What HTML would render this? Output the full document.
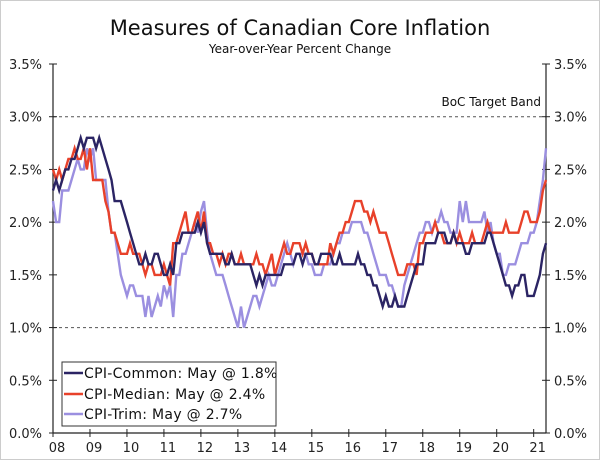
<!DOCTYPE html>
<html><head><meta charset="utf-8"><style>
html,body{margin:0;padding:0;background:#fff}
svg{display:block;font-family:"DejaVu Sans","Liberation Sans",sans-serif}
</style></head><body>
<svg id="chart" width="600" height="460" viewBox="0 0 600 460">
<rect x="0.5" y="0.5" width="599" height="459" fill="#fff" stroke="#ccc"/>
<text x="300" y="35" text-anchor="middle" font-size="21" fill="#111">Measures of Canadian Core Inflation</text>
<text x="300" y="53" text-anchor="middle" font-size="12" fill="#111">Year-over-Year Percent Change</text>
<g id="grid"></g>
<g id="axes"></g>
<g id="series"></g>
<text x="541" y="106" text-anchor="end" font-size="12" fill="#111">BoC Target Band</text>
<g>
<rect x="62" y="362" width="214" height="64" fill="#fff" stroke="#333" stroke-width="1"/>
<line x1="64" y1="373" x2="83" y2="373" stroke="#2b2464" stroke-width="2.5"/>
<text x="84" y="378" font-size="14" letter-spacing="0.3" fill="#111">CPI-Common: May @ 1.8%</text>
<line x1="64" y1="394" x2="83" y2="394" stroke="#e8412a" stroke-width="2.5"/>
<text x="84" y="399" font-size="14" letter-spacing="0.3" fill="#111">CPI-Median: May @ 2.4%</text>
<line x1="64" y1="414" x2="83" y2="414" stroke="#9b8fe0" stroke-width="2.5"/>
<text x="84" y="419" font-size="14" letter-spacing="0.3" fill="#111">CPI-Trim: May @ 2.7%</text>
</g>
</svg>
<script>
const years = ["08","09","10","11","12","13","14","15","16","17","18","19","20","21"];
const yTicks = [0,0.5,1.0,1.5,2.0,2.5,3.0,3.5];
const targetBand = [1.0,3.0];
const common = [2.3,2.4,2.3,2.4,2.5,2.5,2.6,2.6,2.7,2.8,2.7,2.8,
2.8,2.8,2.7,2.8,2.7,2.6,2.5,2.4,2.2,2.2,2.2,2.1,
2.0,1.9,1.8,1.7,1.6,1.6,1.7,1.6,1.6,1.7,1.7,1.6,
1.5,1.5,1.6,1.5,1.8,1.8,1.9,1.9,1.9,1.9,1.9,2.0,
1.9,2.0,1.8,1.7,1.7,1.7,1.7,1.7,1.6,1.6,1.7,1.6,
1.6,1.6,1.6,1.6,1.6,1.5,1.4,1.5,1.4,1.5,1.5,1.5,
1.5,1.5,1.5,1.6,1.6,1.6,1.6,1.7,1.7,1.6,1.7,1.7,
1.7,1.6,1.6,1.7,1.7,1.7,1.7,1.6,1.6,1.7,1.6,1.6,
1.6,1.6,1.6,1.7,1.6,1.6,1.5,1.5,1.4,1.4,1.3,1.2,
1.3,1.2,1.2,1.3,1.2,1.2,1.2,1.3,1.4,1.5,1.6,1.6,
1.6,1.8,1.8,1.8,1.8,1.9,1.9,1.9,1.8,1.8,1.9,1.8,
1.8,1.8,1.7,1.7,1.8,1.8,1.8,1.8,1.8,1.9,1.9,1.8,
1.7,1.6,1.5,1.4,1.4,1.3,1.4,1.4,1.5,1.5,1.3,1.3,
1.3,1.4,1.5,1.7,1.8];
const median = [2.5,2.4,2.5,2.4,2.5,2.6,2.6,2.7,2.6,2.6,2.7,2.5,
2.7,2.4,2.4,2.4,2.4,2.2,2.1,1.9,1.9,1.8,1.7,1.7,
1.7,1.8,1.7,1.7,1.7,1.6,1.5,1.6,1.6,1.5,1.5,1.5,
1.6,1.5,1.4,1.8,1.8,1.9,2.0,2.1,1.9,1.9,2.0,2.1,
1.9,2.1,1.8,1.8,1.7,1.7,1.6,1.7,1.6,1.7,1.7,1.6,
1.6,1.7,1.6,1.6,1.6,1.6,1.7,1.6,1.6,1.5,1.6,1.7,
1.5,1.6,1.7,1.8,1.7,1.7,1.8,1.8,1.8,1.7,1.8,1.7,
1.7,1.6,1.6,1.6,1.6,1.6,1.8,1.7,1.8,1.9,1.9,2.0,
2.0,2.1,2.2,2.2,2.2,2.1,2.1,2.0,2.1,2.0,1.9,1.9,
1.9,1.8,1.7,1.6,1.5,1.5,1.5,1.6,1.6,1.6,1.5,1.8,
1.8,1.9,1.9,1.9,2.0,1.9,1.9,1.8,1.8,1.8,1.9,1.8,
1.9,1.8,1.8,1.8,1.9,1.8,1.8,1.8,1.9,2.0,1.9,1.9,
1.9,1.9,1.9,2.0,1.9,1.9,1.9,1.9,2.0,2.1,2.1,2.0,
2.0,2.0,2.1,2.3,2.4];
const trim = [2.2,2.0,2.0,2.3,2.3,2.3,2.4,2.5,2.6,2.5,2.5,2.7,
2.6,2.7,2.4,2.4,2.4,2.4,2.1,1.9,1.9,1.7,1.5,1.4,
1.3,1.4,1.4,1.3,1.3,1.3,1.1,1.3,1.1,1.2,1.3,1.2,
1.4,1.3,1.4,1.1,1.5,1.5,1.7,1.7,1.8,1.9,2.0,1.9,
2.1,2.2,1.9,1.7,1.6,1.5,1.5,1.5,1.4,1.3,1.2,1.1,
1.0,1.2,1.0,1.1,1.2,1.3,1.3,1.2,1.3,1.4,1.5,1.4,
1.4,1.5,1.6,1.7,1.8,1.7,1.6,1.7,1.7,1.7,1.7,1.6,
1.6,1.5,1.5,1.5,1.6,1.6,1.6,1.7,1.8,1.8,1.9,1.9,
1.9,2.0,2.0,2.0,2.0,1.9,1.9,1.8,1.7,1.6,1.5,1.5,
1.5,1.4,1.4,1.3,1.2,1.2,1.4,1.5,1.6,1.7,1.8,1.9,
1.9,2.0,2.0,1.9,2.0,2.0,2.1,2.0,2.0,1.9,1.9,1.9,
2.2,2.0,2.2,2.0,2.0,2.0,2.0,2.0,2.1,1.9,2.0,1.8,
1.7,1.7,1.5,1.5,1.6,1.6,1.6,1.7,1.8,1.8,1.8,1.9,
1.9,2.0,2.2,2.4,2.7];

const NS='http://www.w3.org/2000/svg';
const L=53,R=546,T=64,B=433,yMax=3.5,nMonths=160;
const xM=i=>L+i*(R-L)/nMonths;
const y=v=>B-v*(B-T)/yMax;
function mk(tag,attrs,parent){const e=document.createElementNS(NS,tag);for(const k in attrs)e.setAttribute(k,attrs[k]);parent.appendChild(e);return e;}
const grid=document.getElementById('grid'),axes=document.getElementById('axes'),ser=document.getElementById('series');
targetBand.forEach(v=>{
  const l=mk('line',{x1:L,x2:R,y1:y(v),y2:y(v),stroke:'#555','stroke-dasharray':'3,3','stroke-width':1},grid);
  
  
});
const la=mk('line',{x1:L,x2:L,y1:T,y2:B,stroke:'#222','stroke-width':1.2},axes);


const ra=mk('line',{x1:R,x2:R,y1:T,y2:B,stroke:'#222','stroke-width':1.2},axes);


const xa=mk('line',{x1:L,x2:R,y1:B,y2:B,stroke:'#222','stroke-width':1.2},axes);


yTicks.forEach(v=>{
  mk('line',{x1:L-4,x2:L+4,y1:y(v),y2:y(v),stroke:'#222'},axes);
  mk('line',{x1:R-4,x2:R+4,y1:y(v),y2:y(v),stroke:'#222'},axes);
  const t1=mk('text',{x:L-11,y:y(v)+5,'text-anchor':'end','font-size':13,fill:'#222'},axes);
  t1.textContent=v.toFixed(1)+'%';
  
  
  const t2=mk('text',{x:R+8,y:y(v)+5,'text-anchor':'start','font-size':13,fill:'#222'},axes);
  t2.textContent=v.toFixed(1)+'%';
  
  
});
years.forEach((yr,i)=>{
  const x=xM(i*12);
  mk('line',{x1:x,x2:x,y1:B-4,y2:B+4,stroke:'#222'},axes);
  const t=mk('text',{x:x+4,y:B+19,'text-anchor':'middle','font-size':13,fill:'#222'},axes);
  t.textContent=yr;
  
  
});
[[trim,'#9b8fe0','series-cpi-trim'],[median,'#e8412a','series-cpi-median'],[common,'#2b2464','series-cpi-common']].forEach(([d,c,n])=>{
  const p=mk('polyline',{points:d.map((v,i)=>xM(i).toFixed(1)+','+y(v).toFixed(1)).join(' '),fill:'none',stroke:c,'stroke-width':2.4,'stroke-linejoin':'miter'},ser);
  
  
});
</script>
</body></html>
